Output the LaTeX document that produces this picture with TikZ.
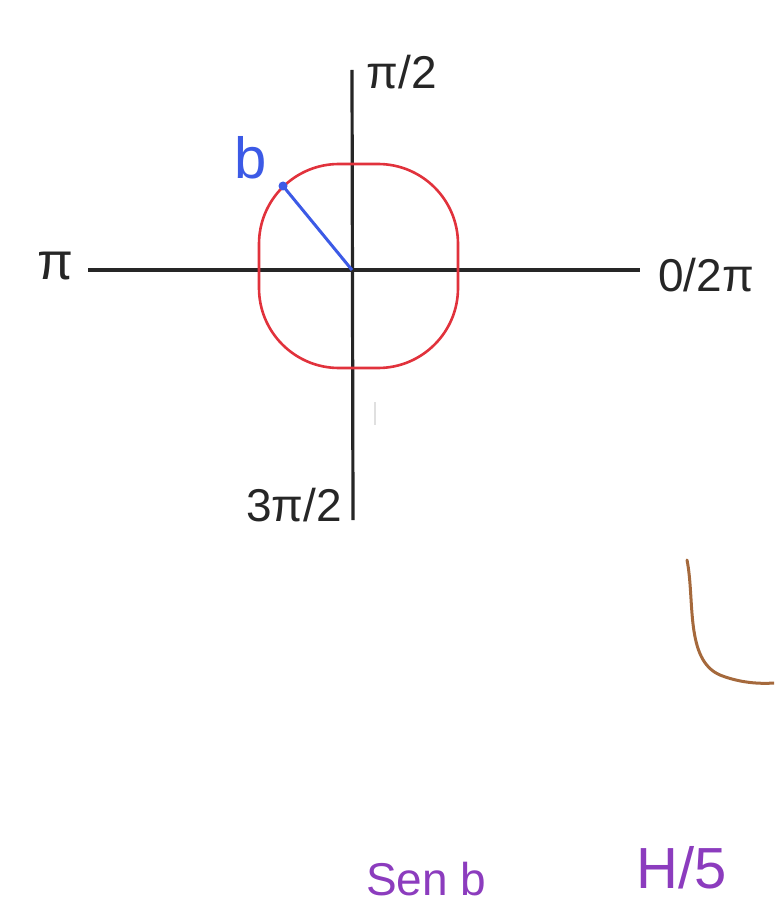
\documentclass[tikz,border=0pt]{standalone}
\usepackage{fontspec}
\setmainfont{Liberation Sans}
\begin{document}
\begin{tikzpicture}[x=1pt,y=-1pt,
  axis/.style={line width=3.2pt,black!85},
  lbl/.style={inner sep=0pt,font=\fontsize{46}{46}\selectfont,text=black!85},
  purp/.style={inner sep=0pt,font=\fontsize{46}{46}\selectfont,text={rgb,255:red,140;green,60;blue,190}}]
\useasboundingbox (0,0) rectangle (774,909);
\clip (0,0) rectangle (774,909);
\definecolor{redc}{RGB}{225,50,60}
\definecolor{bluec}{RGB}{60,90,230}
\definecolor{brownc}{RGB}{165,105,60}
% axes
\coordinate (L) at (88,270);
\coordinate (R) at (640,270);
\coordinate (T) at (352,70);
\coordinate (B) at (353,520);
\coordinate (O) at (352,270);
\draw[axis] (L) -- (R);
\draw[axis] (T) -- (B);
% red squircle
\draw[redc,line width=2.6pt,rounded corners=80pt] (259,164) rectangle (458,368);
% blue radius
\coordinate (P) at (283,186);
\draw[bluec,line width=3pt] (O) -- (P);
\fill[bluec] (P) circle (4.5pt);
\node[inner sep=0pt,font=\fontsize{58}{58}\selectfont,text=bluec] (b) at (251,158) {b};
% labels
\node[lbl] (pi2) at (402,72) {π/2};
\node[lbl,font=\fontsize{52}{52}\selectfont] (pi) at (55,266) {π};
\node[lbl] (zero) at (706,275) {0/2π};
\node[lbl] (tpi2) at (294,505) {3π/2};
% faint mark
\draw[black!12,line width=2pt] (375,402) -- (375,425);
% brown curve
\draw[brownc,line width=3pt,line cap=round] (687,560) .. controls (695,600) and (685,660) .. (720,675) .. controls (740,683) and (760,684) .. (774,683);
% bottom purple texts
\node[purp,anchor=north west] (sen) at (366,862) {Sen b};
\node[purp,anchor=north west,font=\fontsize{58}{58}\selectfont] (h5) at (636,846) {H/5};
\end{tikzpicture}
\end{document}
